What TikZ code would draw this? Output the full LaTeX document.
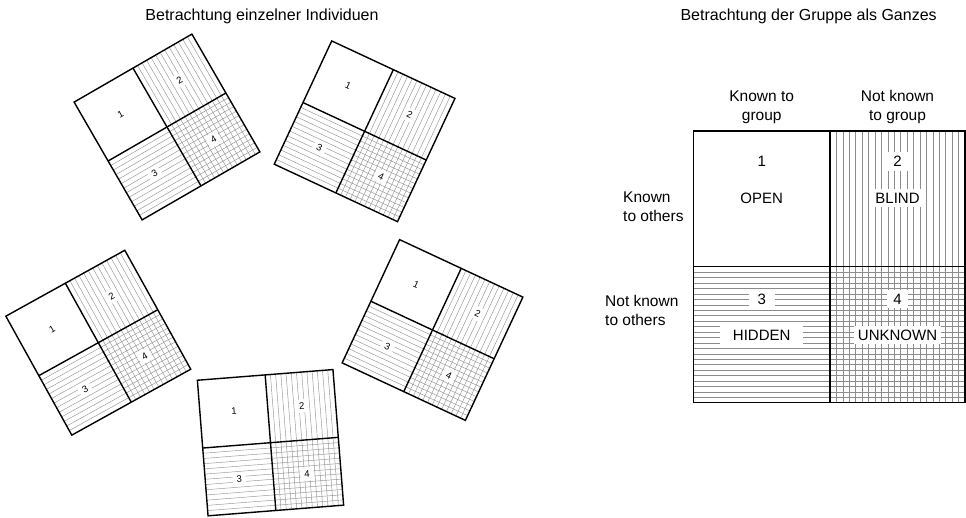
\documentclass[tikz,border=0pt]{standalone}
\usepackage{fontspec}
\setmainfont{Liberation Sans}
\tikzset{
  hatchS/.style={draw=black!42, line width=0.45pt},
  hatchL/.style={draw=black!45, line width=0.5pt},
  frameS/.style={draw=black, line width=1.4pt, line join=miter},
  frameL/.style={draw=black, line width=1.3pt, line join=miter},
  slabel/.style={font=\fontsize{9.5}{10}\selectfont, inner sep=0pt, minimum size=13pt, transform shape},
  llabel/.style={font=\fontsize{15}{18}\selectfont, fill=white, inner xsep=6pt, inner ysep=4pt},
  header/.style={font=\fontsize{15.5}{19}\selectfont, inner sep=0pt, anchor=base},
  rowhead/.style={font=\fontsize{15.5}{19}\selectfont, inner sep=0pt, anchor=base west},
  title/.style={font=\fontsize{16}{19}\selectfont, inner sep=0pt, anchor=base}
}
\newcommand{\jwsmall}[1]{%
  \foreach \i in {1,...,12} {
    \draw[hatchS] ({\i*68/13},-68) -- ({\i*68/13},0);
    \draw[hatchS] (-68,{\i*68/13}) -- (0,{\i*68/13});
    \draw[hatchS] ({\i*68/13},0) -- ({\i*68/13},68);
    \draw[hatchS] (0,{\i*68/13}) -- (68,{\i*68/13});
  }
  \node[slabel] (#1-1) at (-34,-34) {1};
  \node[slabel, fill=white] (#1-2) at (34,-34) {2};
  \node[slabel, fill=white] (#1-3) at (-34,34) {3};
  \node[slabel, fill=white] (#1-4) at (34,34) {4};
  \draw[frameS] (-68,-68) rectangle (68,68);
  \draw[frameS] (0,-68) -- (0,68);
  \draw[frameS] (-68,0) -- (68,0);
}
\begin{document}
\begin{tikzpicture}[x=1pt,y=-1pt]
\useasboundingbox (0,0) rectangle (966,518);
\fill[white] (0,0) rectangle (966,518);

% titles
\node[title] (t1) at (262,21) {Betrachtung einzelner Individuen};
\node[title] (t2) at (808.6,21) {Betrachtung der Gruppe als Ganzes};

% small windows
\begin{scope}[shift={(167,127)}, rotate=30]\jwsmall{A}\end{scope}
\begin{scope}[shift={(364.6,131.3)}, rotate=-25]\jwsmall{B}\end{scope}
\begin{scope}[shift={(98.3,342.7)}, rotate=29]\jwsmall{C}\end{scope}
\begin{scope}[shift={(432.5,330)}, rotate=-25]\jwsmall{D}\end{scope}
\begin{scope}[shift={(270.5,442.7)}, rotate=4.5]\jwsmall{E}\end{scope}

% large window
\foreach \i in {1,...,20} {
  \draw[hatchL] ({830+\i*135/21},131) -- ({830+\i*135/21},266.8);
  \draw[hatchL] ({830+\i*135/21},266.8) -- ({830+\i*135/21},402.7);
}
\foreach \i in {1,...,24} {
  \draw[hatchL] (693.3,{266.8+\i*135.9/25}) -- (830,{266.8+\i*135.9/25});
  \draw[hatchL] (830,{266.8+\i*135.9/25}) -- (965,{266.8+\i*135.9/25});
}
\node[llabel] (q1n) at (761.7,161.7) {1};
\node[llabel] (q1t) at (761.7,198.3) {OPEN};
\node[llabel] (q2n) at (897.5,161.7) {2};
\node[llabel] (q2t) at (897.5,198.3) {BLIND};
\node[llabel, inner xsep=9pt] (q3n) at (761.7,299.3) {3};
\node[llabel, inner xsep=13pt, inner ysep=7pt] (q3t) at (761.7,335) {HIDDEN};
\node[llabel] (q4n) at (897.5,299.3) {4};
\node[llabel, inner xsep=4pt] (q4t) at (897.5,335) {UNKNOWN};
\draw[frameL] (693.3,131) rectangle (965,402.7);
\draw[frameL] (830,131) -- (830,402.7);
\draw[frameL] (693.3,266.8) -- (965,266.8);

% headers
\node[header] (c1a) at (761.7,101.5) {Known to};
\node[header] (c1b) at (761.7,120.5) {group};
\node[header] (c2a) at (897.5,101.5) {Not known};
\node[header] (c2b) at (897.5,120.5) {to group};
\node[rowhead] (r1a) at (623,203) {Known};
\node[rowhead] (r1b) at (623,222) {to others};
\node[rowhead] (r2a) at (605,307) {Not known};
\node[rowhead] (r2b) at (605,326) {to others};
\end{tikzpicture}
\end{document}
